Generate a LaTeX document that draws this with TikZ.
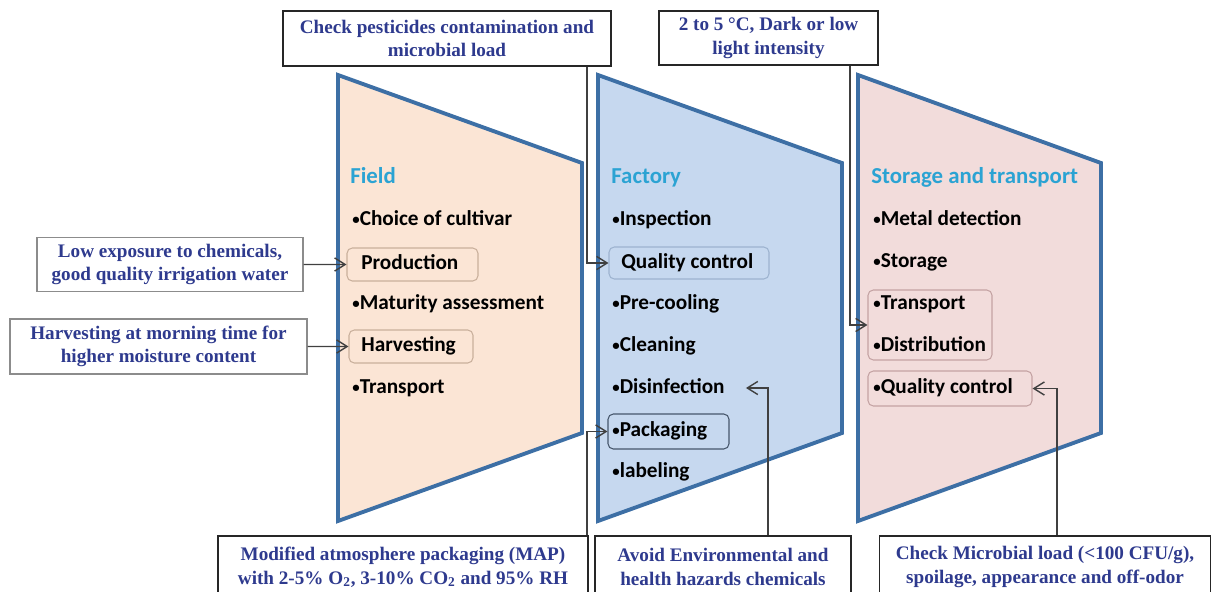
\documentclass[tikz,border=0pt]{standalone}
\usepackage{fontspec}
\setmainfont{Liberation Serif}
\newfontfamily\calib{Carlito}
\usetikzlibrary{arrows.meta,fit}

\definecolor{stageline}{HTML}{3D6FA5}
\definecolor{fieldfill}{HTML}{FBE5D5}
\definecolor{factoryfill}{HTML}{C6D8EF}
\definecolor{storefill}{HTML}{F2DCDB}
\definecolor{titleblue}{HTML}{2BA3D3}
\definecolor{notenavy}{HTML}{2E3A8E}
\definecolor{tanline}{HTML}{C9B09C}
\definecolor{paleblue}{HTML}{9DB3CF}
\definecolor{slateline}{HTML}{46566B}
\definecolor{roseline}{HTML}{C4A3A3}

% small bullet as in the figure
\newcommand{\bul}{\raisebox{0.6pt}{\scalebox{0.7}{•}}}

\begin{document}
\begin{tikzpicture}[x=0.02cm, y=-0.02cm,
    stage/.style={draw=stageline, line width=2.2pt, line join=miter},
    title/.style={anchor=base west, inner sep=0pt, text=titleblue,
        font=\calib\bfseries\fontsize{13}{15}\selectfont},
    item/.style={anchor=west, inner sep=0pt, text height=8.5pt, text depth=2.5pt,
        font=\calib\bfseries\fontsize{12.1}{14}\selectfont},
    itembox/.style={draw=#1, rounded corners=3pt, inner sep=0pt, line width=0.6pt},
    note/.style={draw=black!85, fill=white, line width=0.8pt, align=center, inner sep=2pt,
        text=notenavy, font=\bfseries\fontsize{10.9}{13.4}\selectfont},
    link/.style={draw=black!75, line width=0.8pt, ->, >={Straight Barb[length=6pt,width=7.5pt]}}]
        \useasboundingbox (0,0) rectangle (1212,591);
        \clip (0,0) rectangle (1212,591);

        % the three stages
        \draw[stage, fill=fieldfill] (338,75) -- (582,163) -- (582,433) -- (338,521) -- cycle;
        \draw[stage, fill=factoryfill] (598,75) -- (842,163) -- (842,433) -- (598,521) -- cycle;
        \draw[stage, fill=storefill] (858,75) -- (1101,163) -- (1101,433) -- (858,521) -- cycle;

        \node [title] (field) at (350,183) {Field};
        \node [title] (factory) at (611,183) {Factory};
        \node [title] (store) at (871,183) {Storage and transport};

        % field
        \node [itembox=tanline, fit={(347,248) (478,281)}] (prodbox) {};
        \node [itembox=tanline, fit={(349,330) (473,363)}] (harvbox) {};
        \node [item] (cult) at (352,220) {\bul Choice of cultivar};
        \node [item] (prod) at (361,264.5) {Production};
        \node [item] (matur) at (352,304) {\bul Maturity assessment};
        \node [item] (harv) at (361,346.5) {Harvesting};
        \node [item] (trans) at (352,388) {\bul Transport};

        % factory
        \node [itembox=paleblue, fit={(609,247) (769,279)}] (qcbox) {};
        \node [itembox=slateline, fit={(608,414) (729,449)}] (packbox) {};
        \node [item] (insp) at (612,220) {\bul Inspection};
        \node [item] (qc) at (621,263) {Quality control};
        \node [item] (precool) at (612,304) {\bul Pre-cooling};
        \node [item] (clean) at (612,346) {\bul Cleaning};
        \node [item] (disin) at (612,388) {\bul Disinfection};
        \node [item] (pack) at (612,431.5) {\bul Packaging};
        \node [item] (label) at (612,472) {\bul labeling};

        % storage and transport
        \node [itembox=roseline, fit={(868,290) (992,360)}] (trbox) {};
        \node [itembox=roseline, fit={(868,371) (1032,406)}] (qcsbox) {};
        \node [item] (metal) at (873,220) {\bul Metal detection};
        \node [item] (storage) at (873,262) {\bul Storage};
        \node [item] (transp) at (873,304) {\bul Transport};
        \node [item] (distr) at (873,346) {\bul Distribution};
        \node [item] (qcs) at (873,388.5) {\bul Quality control};

        % notes
        \node [note, minimum width=6.56cm, minimum height=1.1cm] (pest) at (447,38.5) {Check pesticides contamination and\\ microbial load};
        \node [note, minimum width=4.38cm, minimum height=1.08cm] (temp) at (768.5,38) {2 to 5 °C, Dark or low\\ light intensity};
        \node [note, draw=black!45, minimum width=5.32cm, minimum height=1.08cm] (lowexp) at (170,264.5) {Low exposure to chemicals,\\ good quality irrigation water};
        \node [note, draw=black!45, minimum width=5.94cm, minimum height=1.1cm] (harvnote) at (158.5,346.5) {Harvesting at morning time for\\ higher moisture content};
        \node [note, minimum width=7.4cm, minimum height=1.24cm] (map) at (403,567) {Modified atmosphere packaging (MAP)\\ with 2-5\% O\textsubscript{2}, 3-10\% CO\textsubscript{2} and 95\% RH};
        \node [note, minimum width=5.12cm, minimum height=1.24cm] (avoid) at (723,567) {Avoid Environmental and\\ health hazards chemicals};
        \node [note, minimum width=6.62cm, minimum height=1.24cm] (micro) at (1045,567) {Check Microbial load (<100 CFU/g),\\ spoilage, appearance and off-odor};

        % links
        \coordinate (c1) at (587,0);
        \coordinate (c2) at (850,0);
        \coordinate (c3) at (768,0);
        \coordinate (c4) at (1057,0);
        \draw[link] (pest.south -| c1) |- (qcbox.west);
        \draw[link] (map.north -| c1) |- (packbox.west);
        \draw[link] (temp.south -| c2) |- (trbox.west);
        \draw[link] (lowexp.east) -- (prodbox.west);
        \draw[link] (harvnote.east) -- (harvbox.west);
        \draw[link] (avoid.north -| c3) |- ([xshift=0.42cm]disin.east);
        \draw[link] (micro.north -| c4) |- (qcsbox.east);

    \end{tikzpicture}
\end{document}
